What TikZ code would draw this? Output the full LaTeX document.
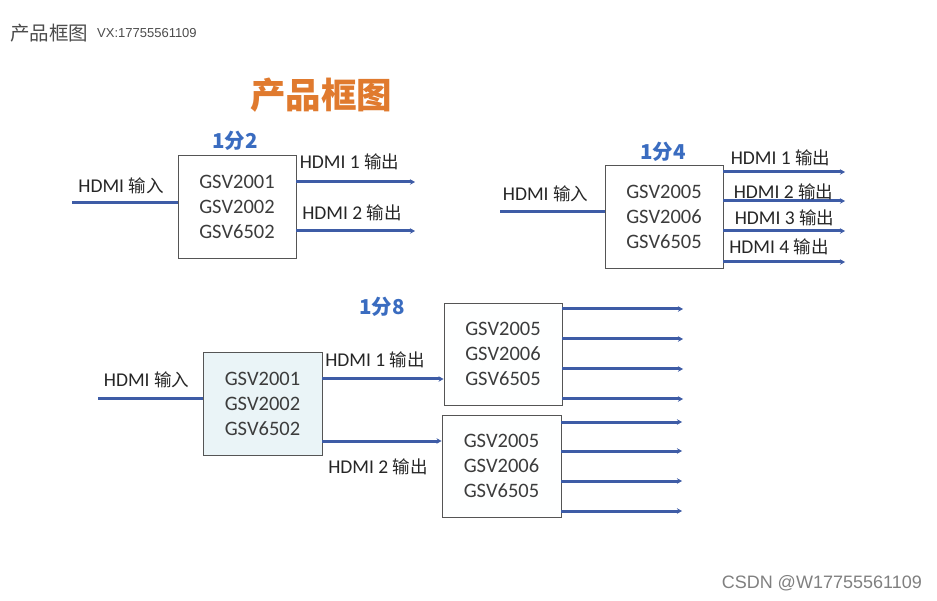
\documentclass[tikz,border=0pt]{standalone}
\usepackage{fontspec}
\setmainfont{Carlito}
\newfontfamily\cjk{Noto Sans CJK SC}
\newfontfamily\lib{Liberation Sans}
\usetikzlibrary{arrows.meta}
\definecolor{wire}{HTML}{3E5CA6}
\definecolor{boxline}{HTML}{555555}
\definecolor{chiptext}{HTML}{3C3C3C}
\definecolor{titleorange}{HTML}{E07A2E}
\definecolor{ratioblue}{HTML}{3A6CC0}
\definecolor{lightfill}{HTML}{EAF4F7}
\newcommand\cn[1]{{\cjk\fontsize{17.5}{20}\selectfont #1}}
\begin{document}
\begin{tikzpicture}[x=1pt,y=-1pt,
  chip/.style={draw=boxline,line width=0.9pt,fill=white,minimum width=118pt,minimum height=103pt,
    align=center,text=chiptext,font=\fontsize{20.5}{25}\selectfont,inner sep=0pt},
  lbl/.style={text=black!85,font=\fontsize{19.5}{22}\selectfont,inner sep=0pt},
  ratio/.style={text=ratioblue,font=\cjk\bfseries\fontsize{20.5}{22}\selectfont,inner sep=0pt},
  wireline/.style={draw=wire,line width=3pt},
  arr/.style={wireline,-{Stealth[length=5pt,width=5.5pt]}}]
\useasboundingbox (0,0) rectangle (937,601);
\fill[white] (0,0) rectangle (937,601);
% header
\node[anchor=west,inner sep=0pt,text=black!70,font=\cjk\fontsize{19.5}{22}\selectfont] (hdr) at (10,33) {产品框图};
\node[anchor=west,inner sep=0pt,text=black!70,font=\lib\fontsize{13}{15}\selectfont] (vx) at (97,33) {VX:17755561109};
\node[inner sep=0pt,text=titleorange,font=\cjk\bfseries\fontsize{35.5}{38}\selectfont] (title) at (321,95) {产品框图};
\node[anchor=east,inner sep=0pt,text=black!50,font=\lib\fontsize{18}{20}\selectfont] (csdn) at (922,583) {CSDN @W17755561109};

% ===== 1分2 =====
\node[ratio] (r2) at (235,141) {1分2};
\node[chip] (b1) at (237,206.5) {GSV2001\\GSV2002\\GSV6502};
\coordinate (i1) at (72,203);
\draw[wireline] (i1) -- (i1 -| b1.west);
\node[lbl] (li1) at (121,186) {HDMI \cn{输入}};
\coordinate (o1a) at (415,182);
\coordinate (o1b) at (415,231);
\draw[arr] (b1.east |- o1a) -- (o1a);
\draw[arr] (b1.east |- o1b) -- (o1b);
\node[lbl] (lo1a) at (349.5,162) {HDMI 1 \cn{输出}};
\node[lbl] (lo1b) at (352,213) {HDMI 2 \cn{输出}};

% ===== 1分4 =====
\node[ratio] (r4) at (663,152) {1分4};
\node[chip] (b2) at (664,217) {GSV2005\\GSV2006\\GSV6505};
\coordinate (i2) at (500,212);
\draw[wireline] (i2) -- (i2 -| b2.west);
\node[lbl] (li2) at (545.5,194) {HDMI \cn{输入}};
\coordinate (o2a) at (845,172);
\coordinate (o2b) at (845,201);
\coordinate (o2c) at (845,231);
\coordinate (o2d) at (845,262);
\foreach \o in {o2a,o2b,o2c,o2d} \draw[arr] (b2.east |- \o) -- (\o);
\node[lbl] (lo2a) at (780.5,158) {HDMI 1 \cn{输出}};
\node[lbl] (lo2b) at (783.5,192) {HDMI 2 \cn{输出}};
\node[lbl] (lo2c) at (784.5,218) {HDMI 3 \cn{输出}};
\node[lbl] (lo2d) at (779,247) {HDMI 4 \cn{输出}};

% ===== 1分8 =====
\node[ratio] (r8) at (382,307) {1分8};
\node[chip,fill=lightfill,minimum width=119pt] (b3) at (262.5,403.5) {GSV2001\\GSV2002\\GSV6502};
\node[chip,fill=white!97!lightfill,minimum height=102pt] (b4) at (503,354) {GSV2005\\GSV2006\\GSV6505};
\node[chip,fill=white!97!lightfill,minimum width=119pt,minimum height=102pt] (b5) at (501.5,466) {GSV2005\\GSV2006\\GSV6505};
\coordinate (i3) at (98,399);
\draw[wireline] (i3) -- (i3 -| b3.west);
\node[lbl] (li3) at (146.5,380) {HDMI \cn{输入}};
\coordinate (m1) at (0,379);
\coordinate (m2) at (0,441);
\draw[arr] (b3.east |- m1) -- (b4.west |- m1);
\draw[arr] (b3.east |- m2) -- (b5.west |- m2);
\node[lbl] (lo3a) at (375,360) {HDMI 1 \cn{输出}};
\node[lbl] (lo3b) at (378,467) {HDMI 2 \cn{输出}};
\foreach \y [count=\k] in {309,339,369,399} {
  \coordinate (p\k) at (683,\y);
  \draw[arr] (b4.east |- p\k) -- (p\k);
}
\foreach \y [count=\k] in {422,451,481,511} {
  \coordinate (q\k) at (682,\y);
  \draw[arr] (b5.east |- q\k) -- (q\k);
}
\end{tikzpicture}
\end{document}
